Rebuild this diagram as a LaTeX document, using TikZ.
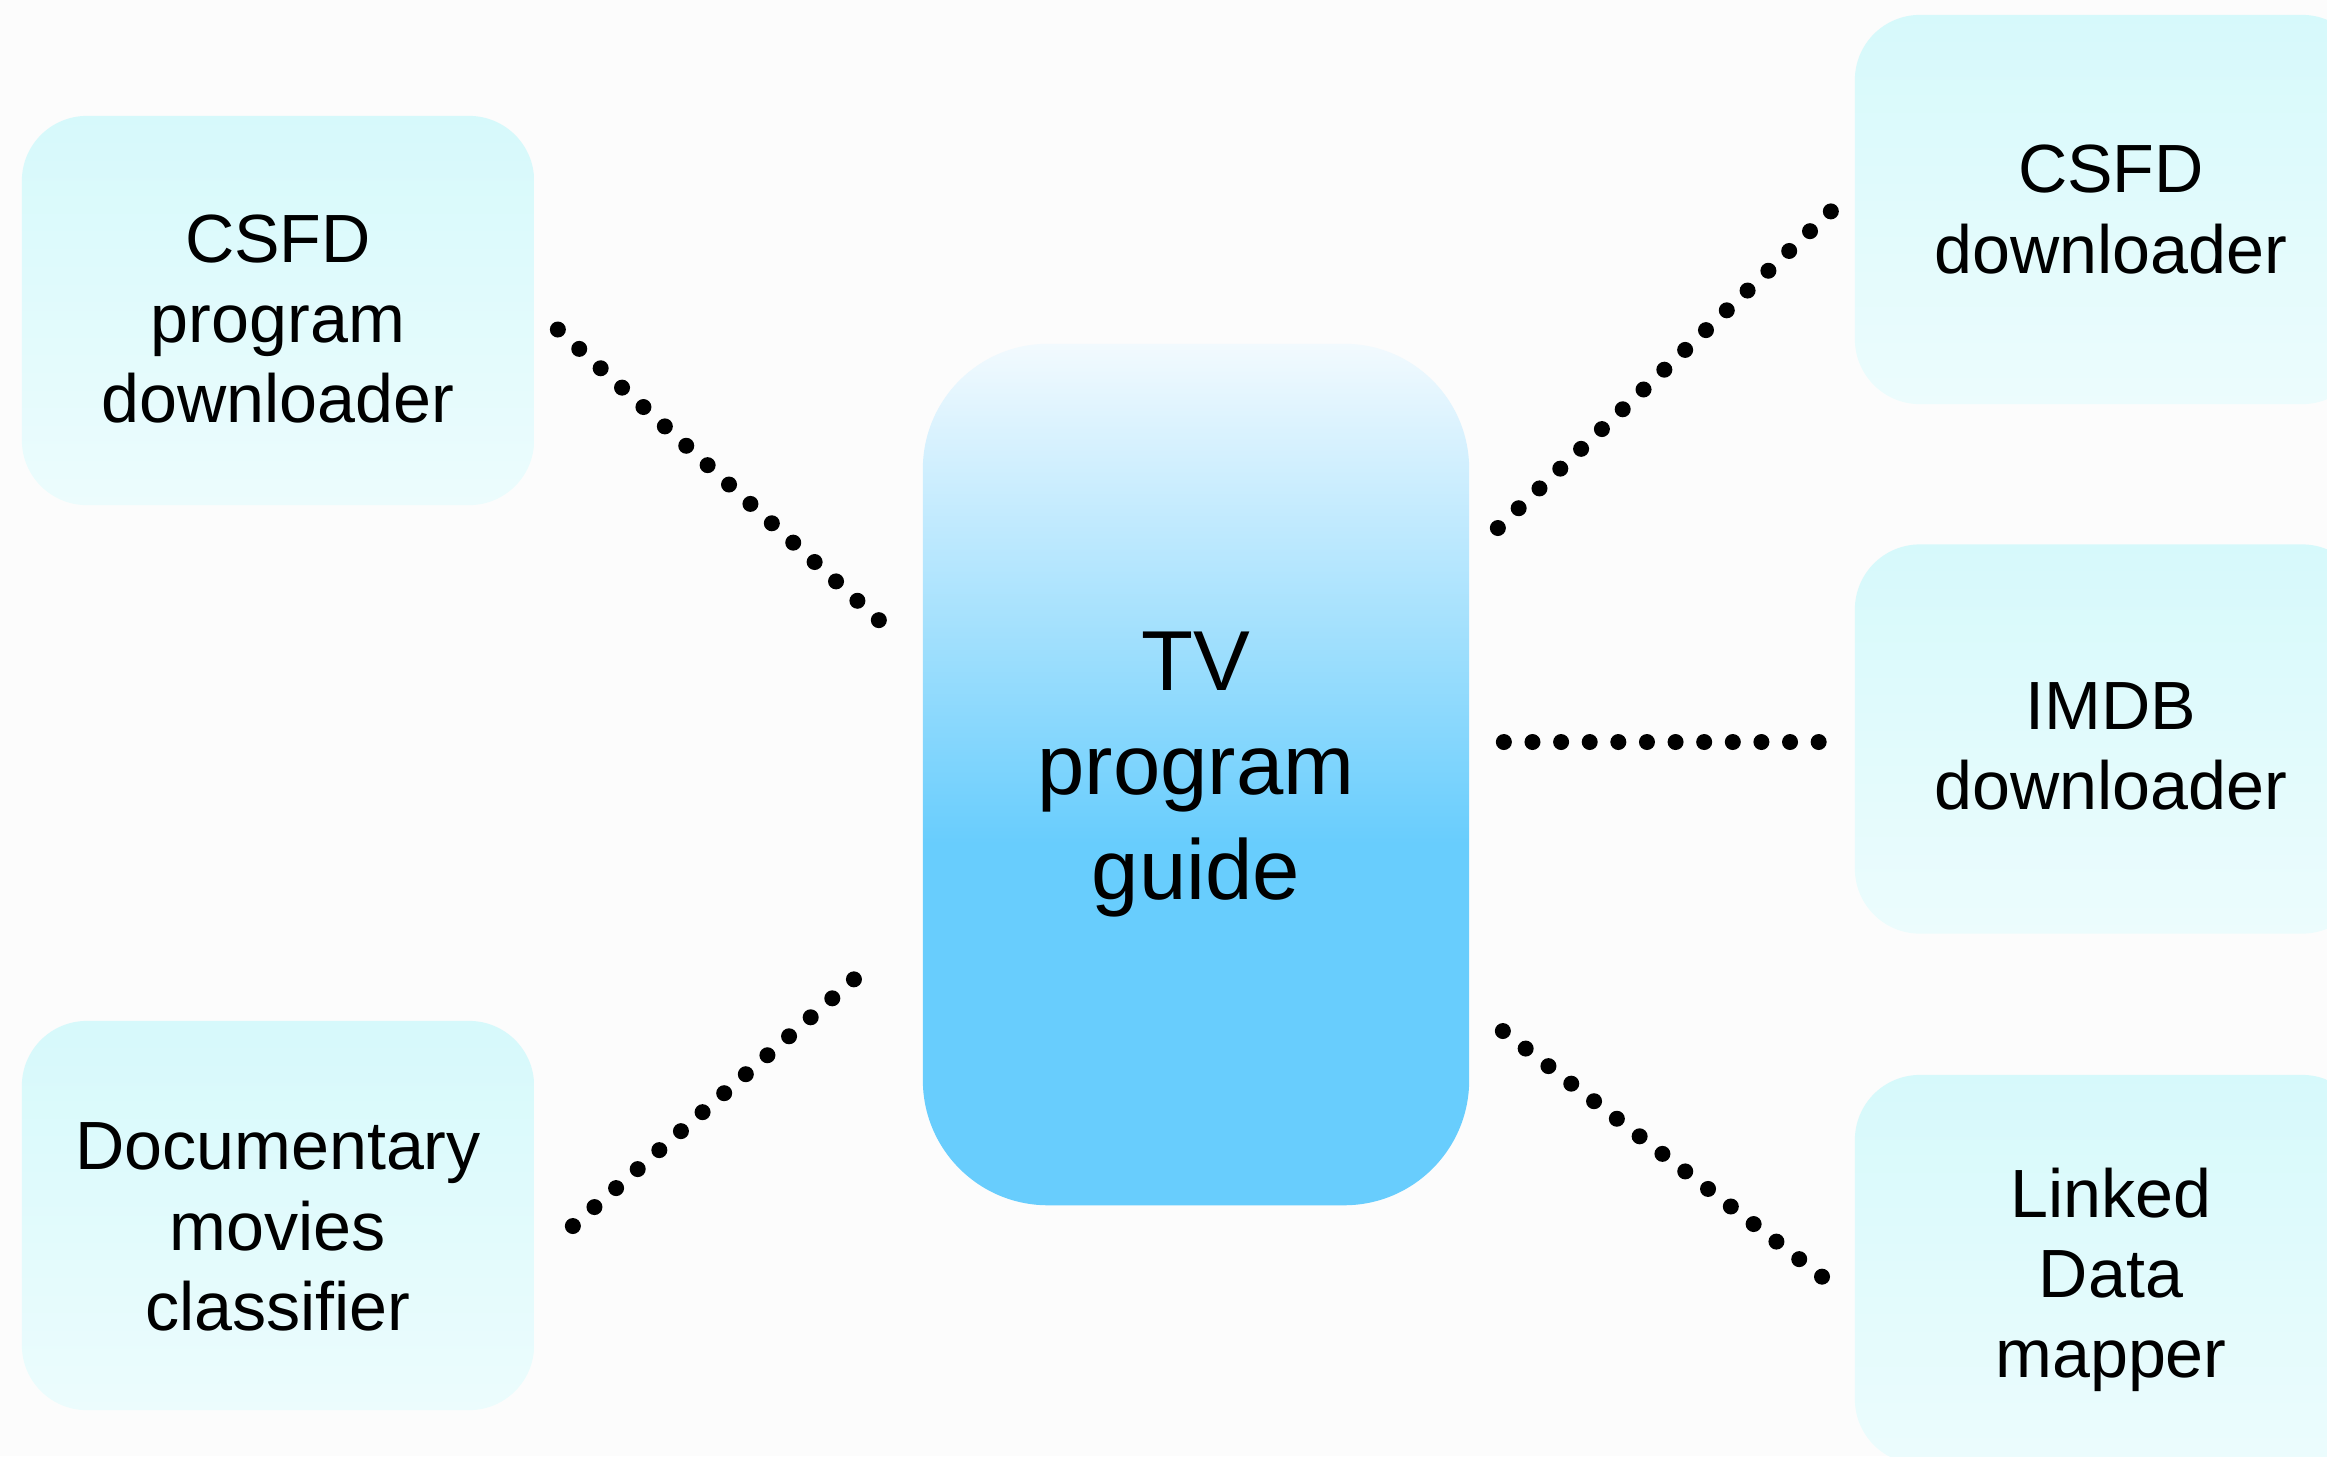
\documentclass[tikz,border=0pt]{standalone}
\usepackage{fontspec}
\setmainfont{Liberation Sans}
\usetikzlibrary{calc}
\definecolor{bg}{RGB}{252,252,252}
\definecolor{boxtop}{RGB}{214,249,251}
\definecolor{boxbot}{RGB}{236,252,253}
\definecolor{tvtop}{RGB}{242,250,254}
\definecolor{tvbot}{RGB}{104,205,253}
\pgfdeclareverticalshading{tvshade}{100bp}{color(0bp)=(tvbot); color(25bp)=(tvbot); color(46bp)=(tvbot); color(75bp)=(tvtop); color(100bp)=(tvtop)}
\begin{document}
\begin{tikzpicture}[x=0.01cm,y=-0.01cm,
  sbox/.style={rounded corners=0.65cm, top color=boxtop, bottom color=boxbot,
    minimum width=5.12cm, minimum height=3.89cm, align=center,
    font=\fontsize{19.4}{22.8}\selectfont, inner sep=0pt},
  tvbox/.style={rounded corners=1.25cm, shading=tvshade,
    minimum width=5.46cm, minimum height=8.61cm, align=center,
    font=\fontsize{24.2}{29.6}\selectfont, inner sep=0pt},
  dotline/.style={line width=0.16cm, line cap=round, dash pattern=on 0pt off #1, shorten >=-0.1cm}]
\useasboundingbox (0,0) rectangle (2327,1456);
\clip (0,0) rectangle (2327,1456);
\fill[bg] (0,0) rectangle (2327,1456);

\node[sbox] (lt) at (278,310.5) {\rule{0pt}{18.2pt}CSFD\\program\\downloader};
\node[sbox] (lb) at (278,1215.5) {\rule{0pt}{19.8pt}Documentary\\movies\\classifier};
\node[tvbox] (tv) at (1196,774.5) {TV\\program\\guide};
\node[sbox] (rt) at (2111,209.5) {CSFD\\downloader};
\node[sbox] (rm) at (2111,739) {\rule{0pt}{17.6pt}IMDB\\downloader};
\node[sbox] (rb) at (2111,1269.5) {\rule{0pt}{19.8pt}Linked\\Data\\mapper};

\coordinate (lt-s) at ($(lt.east)+(23,19)$);
\coordinate (lt-e) at ($(tv.west)+(-44,-155)$);
\coordinate (lb-s) at ($(lb.east)+(38,10.5)$);
\coordinate (lb-e) at ($(tv.west)+(-69,205.5)$);
\coordinate (rt-s) at ($(tv.east)+(28,-246.5)$);
\coordinate (rt-e) at ($(rt.west)+(-24,2.5)$);
\coordinate (rm-s) at ($(tv.east)+(34,-32.5)$);
\coordinate (rm-e) at ($(rm.west)+(-37,3)$);
\coordinate (rb-s) at ($(tv.east)+(33,256.5)$);
\coordinate (rb-e) at ($(rb.west)+(-33,6.5)$);

\draw[dotline=0.2885cm] (lt-s) -- (lt-e);
\draw[dotline=0.2875cm] (lb-s) -- (lb-e);
\draw[dotline=0.287cm] (rt-s) -- (rt-e);
\draw[dotline=0.286cm] (rm-s) -- (rm-e);
\draw[dotline=0.2875cm] (rb-s) -- (rb-e);
\end{tikzpicture}
\end{document}
